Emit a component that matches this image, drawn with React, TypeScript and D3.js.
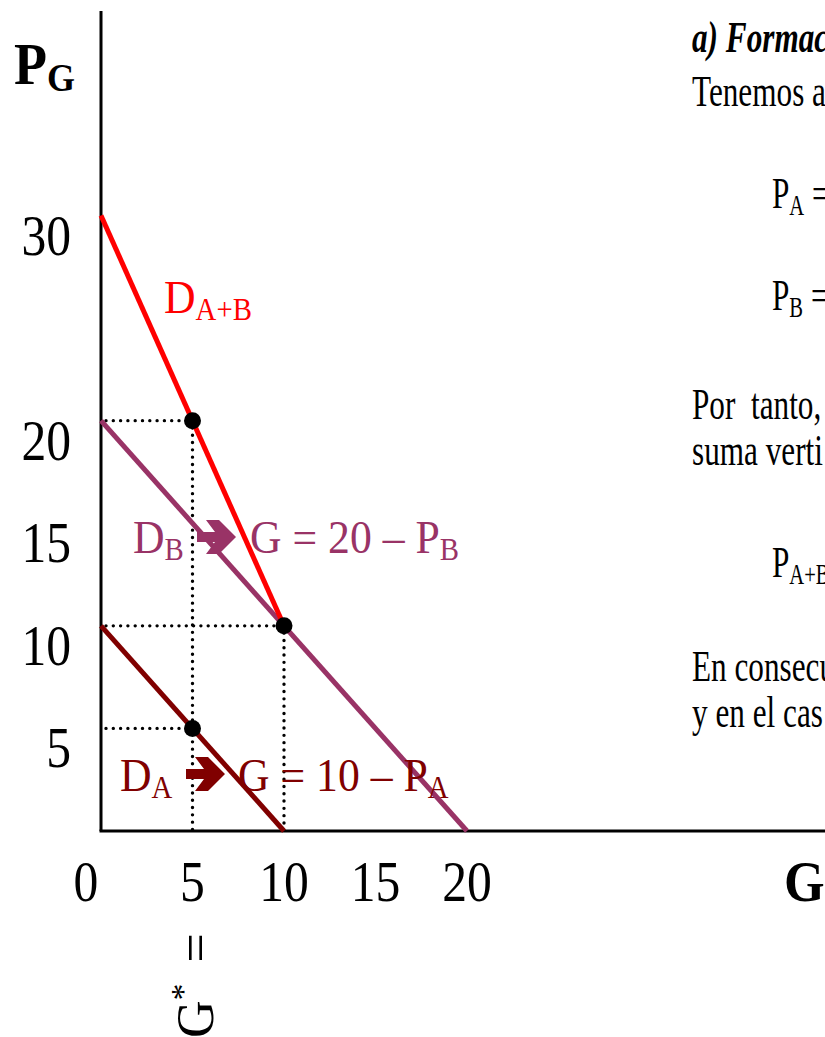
import React from "react";
import * as d3 from "d3";

// Tick values on each axis
const xTicks = [0, 5, 10, 15, 20];
const yTicks = [5, 10, 15, 20, 30];

// Demand curves (G, P_G)
const demandA = [{ g: 0, p: 10 }, { g: 10, p: 0 }];
const demandB = [{ g: 0, p: 20 }, { g: 20, p: 0 }];
const demandAB = [{ g: 0, p: 30 }, { g: 10, p: 10 }];

// Highlighted points and their guide lines
const keyPoints = [{ g: 5, p: 20 }, { g: 10, p: 10 }, { g: 5, p: 5 }];
const verticalGuides = [{ g: 5, p: 20 }, { g: 10, p: 10 }];

const W = 825;
const H = 1037;
const SERIF = "'Liberation Serif', 'Times New Roman', serif";

const RED = "#ff0000";
const PURPLE = "#993366";
const MAROON = "#800000";

const x = d3.scaleLinear().domain([0, 20]).range([101, 467]);
const y = d3.scaleLinear().domain([0, 30]).range([831, 215.5]);

const line = d3
  .line<{ g: number; p: number }>()
  .x((d) => x(d.g))
  .y((d) => y(d.p));

function Squeezed({
  x: tx,
  y: ty,
  sx,
  children,
}: {
  x: number;
  y: number;
  sx: number;
  children: React.ReactNode;
}) {
  return <g transform={`translate(${tx},${ty}) scale(${sx},1)`}>{children}</g>;
}

const ARROW = "M0,-5 L18,-5 L9,-17 L22,-17 L39,0 L22,17 L9,17 L18,5 L0,5 Z";

export default function App() {
  const sq = 0.93;
  const rt = 0.71;
  const rf = 44;
  return (
    <svg
      width={W}
      height={H}
      viewBox={`0 0 ${W} ${H}`}
      style={{ position: "absolute", left: 0, top: 0, background: "#fff" }}
      fontFamily={SERIF}
    >
      <rect width={W} height={H} fill="#fff" />

      {/* axes */}
      <line x1={x(0)} y1={11} x2={x(0)} y2={y(0)} stroke="#000" strokeWidth={3} />
      <line x1={x(0) - 1.5} y1={y(0)} x2={W} y2={y(0)} stroke="#000" strokeWidth={3} />

      {/* y tick labels */}
      {yTicks.map((v) => (
        <Squeezed key={v} x={71} y={y(v) + 39} sx={0.87}>
          <text fontSize={57} textAnchor="end" fill="#000">
            {v}
          </text>
        </Squeezed>
      ))}

      {/* x tick labels */}
      {xTicks.map((v) => (
        <Squeezed key={v} x={x(v) + (v === 0 ? -15 : 0)} y={901} sx={0.87}>
          <text fontSize={57} textAnchor="middle" fill="#000">
            {v}
          </text>
        </Squeezed>
      ))}

      {/* axis titles */}
      <Squeezed x={14} y={84} sx={0.9}>
        <text fontSize={60} fontWeight="bold" fill="#000">
          P
          <tspan fontSize={40} dy={7}>
            G
          </tspan>
        </text>
      </Squeezed>
      <Squeezed x={784} y={901} sx={0.9}>
        <text fontSize={58} fontWeight="bold" fill="#000">
          G
        </text>
      </Squeezed>

      {/* dotted guides */}
      {keyPoints.map((d, i) => (
        <line
          key={`h${i}`}
          x1={x(0) + 5}
          y1={y(d.p)}
          x2={x(d.g)}
          y2={y(d.p)}
          stroke="#000"
          strokeWidth={3.4}
          strokeDasharray="0 7.3"
          strokeLinecap="round"
        />
      ))}
      {verticalGuides.map((d, i) => (
        <line
          key={`v${i}`}
          x1={x(d.g)}
          y1={y(d.p)}
          x2={x(d.g)}
          y2={y(0)}
          stroke="#000"
          strokeWidth={3.4}
          strokeDasharray="0 7.3"
          strokeLinecap="round"
        />
      ))}

      {/* demand curves */}
      <path d={line(demandB) ?? ""} stroke={PURPLE} strokeWidth={5} fill="none" />
      <path d={line(demandA) ?? ""} stroke={MAROON} strokeWidth={5} fill="none" />
      <path d={line(demandAB) ?? ""} stroke={RED} strokeWidth={5} fill="none" />

      {/* points */}
      {keyPoints.map((d, i) => (
        <circle key={`c${i}`} cx={x(d.g)} cy={y(d.p)} r={8.5} fill="#000" />
      ))}

      {/* curve labels */}
      <Squeezed x={164} y={313} sx={sq}>
        <text fontSize={47} fill={RED}>
          D
          <tspan fontSize={31} dy={7}>
            A+B
          </tspan>
        </text>
      </Squeezed>

      <Squeezed x={133} y={553} sx={sq}>
        <text fontSize={47} fill={PURPLE}>
          D
          <tspan fontSize={31} dy={7}>
            B
          </tspan>
        </text>
      </Squeezed>
      <path d={ARROW} transform="translate(197,537)" fill={PURPLE} />
      <Squeezed x={250} y={553} sx={sq}>
        <text fontSize={47} fill={PURPLE}>
          G = 20 – P
          <tspan fontSize={31} dy={7}>
            B
          </tspan>
        </text>
      </Squeezed>

      <Squeezed x={120} y={791} sx={sq}>
        <text fontSize={47} fill={MAROON}>
          D
          <tspan fontSize={31} dy={7}>
            A
          </tspan>
        </text>
      </Squeezed>
      <path d={ARROW} transform="translate(186,774)" fill={MAROON} />
      <Squeezed x={238} y={791} sx={sq}>
        <text fontSize={47} fill={MAROON}>
          G = 10 – P
          <tspan fontSize={31} dy={7}>
            A
          </tspan>
        </text>
      </Squeezed>

      {/* G* = under the 5 tick */}
      <g transform="translate(213,1038) rotate(-90)">
        <text fontSize={52} fill="#000">
          G
          <tspan fontSize={34} dy={-19}>
            *
          </tspan>
          <tspan dy={19} dx={8}>
            {" ="}
          </tspan>
        </text>
      </g>

      {/* explanatory text */}
      <Squeezed x={692} y={52} sx={rt}>
        <text fontSize={rf} fontWeight="bold" fontStyle="italic" fill="#000">
          a) Formac
        </text>
      </Squeezed>
      <Squeezed x={692} y={106} sx={rt}>
        <text fontSize={rf} fill="#000">
          Tenemos a
        </text>
      </Squeezed>
      <Squeezed x={772} y={208} sx={rt}>
        <text fontSize={rf} fill="#000">
          P
          <tspan fontSize={29} dy={7}>
            A
          </tspan>
          <tspan dy={-7}> =</tspan>
        </text>
      </Squeezed>
      <Squeezed x={772} y={310} sx={rt}>
        <text fontSize={rf} fill="#000">
          P
          <tspan fontSize={29} dy={7}>
            B
          </tspan>
          <tspan dy={-7}> =</tspan>
        </text>
      </Squeezed>
      <Squeezed x={692} y={419} sx={rt}>
        <text fontSize={rf} fill="#000">
          Por&#160; tanto,
        </text>
      </Squeezed>
      <Squeezed x={692} y={465} sx={rt}>
        <text fontSize={rf} fill="#000">
          suma verti
        </text>
      </Squeezed>
      <Squeezed x={772} y={577} sx={rt}>
        <text fontSize={rf} fill="#000">
          P
          <tspan fontSize={29} dy={7}>
            A+B
          </tspan>
        </text>
      </Squeezed>
      <Squeezed x={692} y={681} sx={rt}>
        <text fontSize={rf} fill="#000">
          En consecu
        </text>
      </Squeezed>
      <Squeezed x={692} y={727} sx={rt}>
        <text fontSize={rf} fill="#000">
          y en el cas
        </text>
      </Squeezed>
    </svg>
  );
}
